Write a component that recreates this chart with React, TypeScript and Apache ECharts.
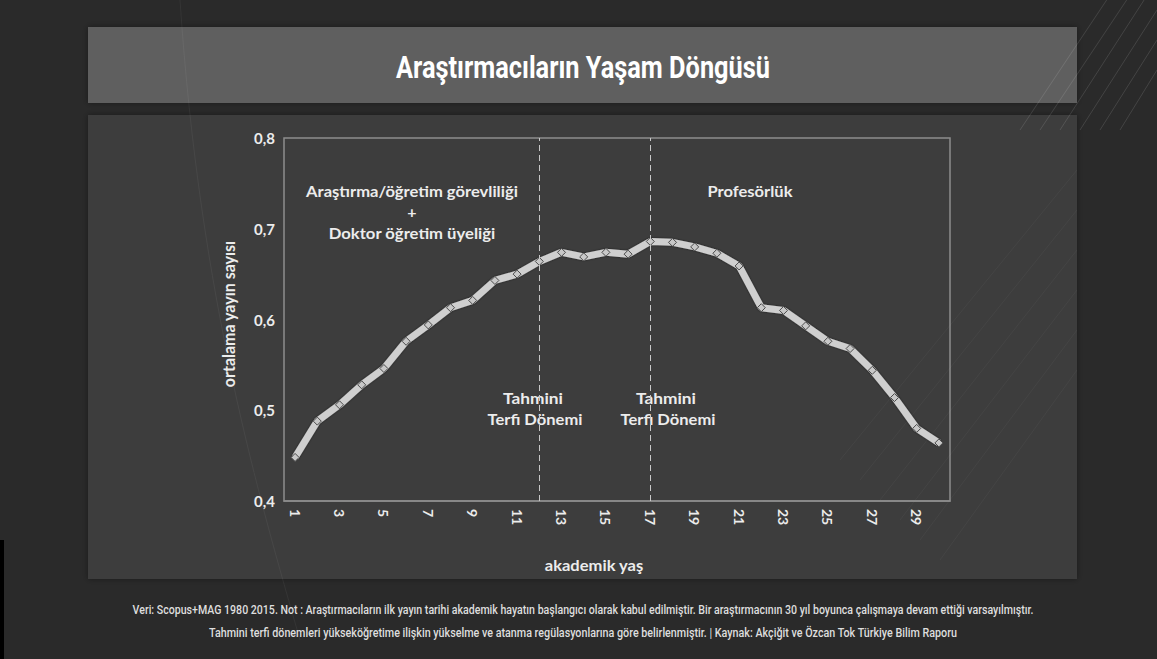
import React, { useEffect, useRef } from "react";
import * as echarts from "echarts";

const ages = ["1","2","3","4","5","6","7","8","9","10","11","12","13","14","15","16","17","18","19","20","21","22","23","24","25","26","27","28","29","30"];
const avgPubs = [0.448,0.488,0.506,0.528,0.546,0.576,0.594,0.613,0.621,0.643,0.650,0.664,0.674,0.669,0.674,0.672,0.686,0.685,0.680,0.673,0.659,0.613,0.610,0.593,0.576,0.568,0.544,0.514,0.480,0.464];
const promotionAges = ["12", "17"];

const titleText = "Araştırmacıların Yaşam Döngüsü";
const phase1Lines = ["Araştırma/öğretim görevliliği", "+", "Doktor öğretim üyeliği"];
const phase2Text = "Profesörlük";
const promoLines = ["Tahmini", "Terfi Dönemi"];
const xName = "akademik yaş";
const yName = "ortalama yayın sayısı";
const footer1 = "Veri: Scopus+MAG 1980 2015. Not : Araştırmacıların ilk yayın tarihi akademik hayatın başlangıcı olarak kabul edilmiştir. Bir araştırmacının 30 yıl boyunca çalışmaya devam ettiği varsayılmıştır.";
const footer2 = "Tahmini terfi dönemleri yükseköğretime ilişkin yükselme ve atanma regülasyonlarına göre belirlenmiştir. | Kaynak: Akçiğit ve Özcan Tok Türkiye Bilim Raporu";

const COND = 'Roboto, "Noto Sans", sans-serif';
const LABEL = 'Lato, "Open Sans", sans-serif';

let measureCtx: CanvasRenderingContext2D | null = null;
function measure(text: string, font: string): number {
  if (!measureCtx) measureCtx = document.createElement("canvas").getContext("2d");
  measureCtx!.font = font;
  return measureCtx!.measureText(text).width;
}

export default function App() {
  const ref = useRef<HTMLDivElement>(null);
  useEffect(() => {
    document.body.style.margin = "0";
    const chart = echarts.init(ref.current!, null, { renderer: "svg" });
    const txt = (x: number, y: number, text: string, font: string, target: number, fill = "#ececec", extra: any = {}) => {
      const w = measure(text, font);
      const sx = target > 0 && w > 0 ? target / w : 1;
      return {
        type: "text",
        x, y,
        silent: true,
        scaleX: extra.rotation ? 1 : sx,
        scaleY: extra.rotation ? sx : 1,
        ...extra,
        style: { text, fill, font, align: "center", verticalAlign: "middle" },
      };
    };
    const deco: any[] = [];
    const diag = [[1060, 130, 1157, -20], [1080, 130, 1157, 10], [1100, 130, 1157, 40], [1120, 130, 1157, 70], [1040, 130, 1140, -20], [1020, 130, 1120, -20]];
    diag.forEach(([x1, y1, x2, y2]) =>
      deco.push({ type: "line", silent: true, shape: { x1, y1, x2, y2 }, style: { stroke: "rgba(255,255,255,0.12)", lineWidth: 1 } })
    );
    const diag2 = [[880, 500, 1077, 250], [900, 520, 1077, 290], [920, 540, 1077, 330], [940, 560, 1077, 370], [860, 480, 1077, 210], [840, 460, 1077, 170]];
    diag2.forEach(([x1, y1, x2, y2]) =>
      deco.push({ type: "line", silent: true, shape: { x1, y1, x2, y2 }, style: { stroke: "rgba(255,255,255,0.04)", lineWidth: 1 } })
    );
    deco.push({ type: "bezierCurve", silent: true, shape: { x1: 180, y1: 0, x2: 300, y2: 640, cpx1: 200, cpy1: 300, cpx2: 260, cpy2: 500 }, style: { stroke: "rgba(255,255,255,0.05)", fill: "none", lineWidth: 1 } });
    deco.push({ type: "bezierCurve", silent: true, shape: { x1: 1215, y1: 0, x2: 1240, y2: 659, cpx1: 1210, cpy1: 300, cpx2: 1230, cpy2: 500 }, style: { stroke: "rgba(255,255,255,0.05)", fill: "none", lineWidth: 1 } });

    const lab = `bold 16px ${LABEL}`;
    chart.setOption({
      animation: false,
      backgroundColor: "#2a2a2a",
      graphic: [
        { type: "rect", silent: true, z: -10, shape: { x: 0, y: 540, width: 4, height: 119 }, style: { fill: "#000" } },
        { type: "rect", silent: true, z: -10, shape: { x: 88, y: 115, width: 989, height: 464 }, style: { fill: "#3d3d3d", shadowBlur: 6, shadowColor: "rgba(0,0,0,0.4)" } },
        { type: "rect", silent: true, z: -10, shape: { x: 88, y: 27, width: 989, height: 76 }, style: { fill: "#5f5f5f", shadowBlur: 6, shadowColor: "rgba(0,0,0,0.4)" } },
        ...deco,
        txt(583, 67, titleText, `bold 32px ${COND}`, 374, "#ffffff"),
        txt(412, 191, phase1Lines[0], lab, 212),
        txt(412, 211, phase1Lines[1], lab, 0),
        txt(412, 233, phase1Lines[2], lab, 167),
        txt(750, 191, phase2Text, lab, 85),
        txt(533, 398, promoLines[0], lab, 60),
        txt(535, 419, promoLines[1], lab, 95),
        txt(666, 398, promoLines[0], lab, 60),
        txt(668, 419, promoLines[1], lab, 95),
        txt(594, 565, xName, lab, 99),
        txt(229, 314, yName, lab, 155, "#ececec", { rotation: Math.PI / 2 }),
        txt(583, 610, footer1, `500 12px ${COND}`, 902, "#dedede"),
        txt(583, 633, footer2, `500 12px ${COND}`, 750, "#dedede"),
      ],
      grid: { left: 284, top: 138, width: 666, height: 363, show: true, borderColor: "#8d8d8d", borderWidth: 1.5, backgroundColor: "transparent" },
      xAxis: {
        type: "category",
        data: ages,
        boundaryGap: true,
        axisLine: { show: true, lineStyle: { color: "#8d8d8d", width: 1.5 } },
        axisTick: { show: false },
        axisLabel: { interval: 1, rotate: -90, color: "#ececec", fontWeight: "bold", fontSize: 14, fontFamily: LABEL, margin: 8 },
        splitLine: { show: false },
      },
      yAxis: {
        type: "value",
        min: 0.4,
        max: 0.8,
        interval: 0.1,
        axisLine: { show: false },
        axisTick: { show: false },
        splitLine: { show: false },
        axisLabel: { color: "#ececec", fontWeight: "bold", fontSize: 15, fontFamily: LABEL, margin: 9, formatter: (v: number) => v.toFixed(1).replace(".", ",") },
      },
      series: [
        {
          type: "line",
          data: avgPubs,
          symbol: "diamond",
          symbolSize: 8,
          showSymbol: true,
          lineStyle: { color: "#cfcfcf", width: 7, shadowColor: "rgba(0,0,0,0.55)", shadowBlur: 2 },
          itemStyle: { color: "#c8c8c8", borderColor: "#4a4a4a", borderWidth: 1 },
          markLine: {
            silent: true,
            symbol: ["none", "none"],
            label: { show: false },
            lineStyle: { color: "#c8c8c8", type: [6, 4], width: 1 },
            data: promotionAges.map((a) => ({ xAxis: a })),
          },
        },
      ],
    });
    return () => chart.dispose();
  }, []);
  return <div ref={ref} style={{ width: 1157, height: 659, position: "absolute", left: 0, top: 0 }} />;
}
